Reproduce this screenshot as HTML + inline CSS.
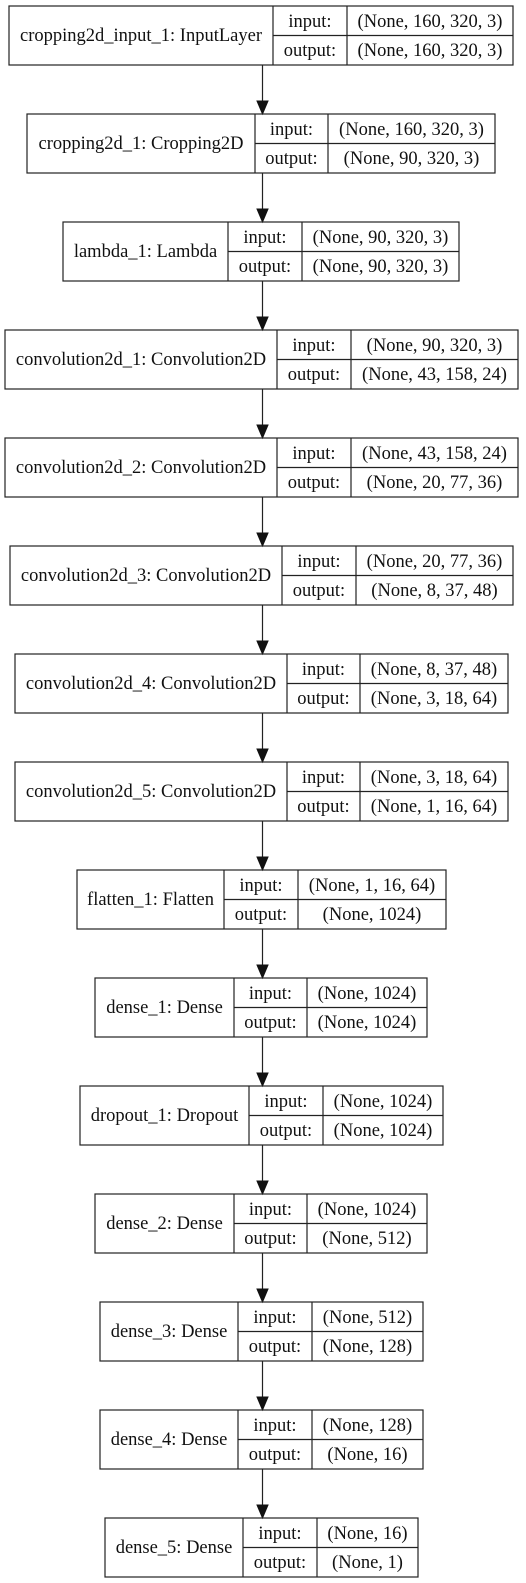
<!DOCTYPE html>
<html><head><meta charset="utf-8"><style>
html,body{margin:0;padding:0;background:#fff;}
svg{display:block;}
text{font-family:"Liberation Serif",serif;font-size:18.5px;fill:#111;text-anchor:middle;}
rect,line{stroke:#222;stroke-width:1.2;fill:none;}
</style></head><body>
<svg width="526" height="1583" viewBox="0 0 526 1583" xmlns="http://www.w3.org/2000/svg">
<g id="g"></g>
</svg>
<script>
var nodes=[
["cropping2d_input_1: InputLayer",9,273,347,513,"(None, 160, 320, 3)","(None, 160, 320, 3)"],
["cropping2d_1: Cropping2D",27,255,328,495,"(None, 160, 320, 3)","(None, 90, 320, 3)"],
["lambda_1: Lambda",63,228,302,459,"(None, 90, 320, 3)","(None, 90, 320, 3)"],
["convolution2d_1: Convolution2D",5,277,351,518,"(None, 90, 320, 3)","(None, 43, 158, 24)"],
["convolution2d_2: Convolution2D",5,277,351,518,"(None, 43, 158, 24)","(None, 20, 77, 36)"],
["convolution2d_3: Convolution2D",10,282,356,513,"(None, 20, 77, 36)","(None, 8, 37, 48)"],
["convolution2d_4: Convolution2D",15,287,360,508,"(None, 8, 37, 48)","(None, 3, 18, 64)"],
["convolution2d_5: Convolution2D",15,287,360,508,"(None, 3, 18, 64)","(None, 1, 16, 64)"],
["flatten_1: Flatten",77,224,298,446,"(None, 1, 16, 64)","(None, 1024)"],
["dense_1: Dense",95,234,307,427,"(None, 1024)","(None, 1024)"],
["dropout_1: Dropout",80,249,323,443,"(None, 1024)","(None, 1024)"],
["dense_2: Dense",95,234,307,427,"(None, 1024)","(None, 512)"],
["dense_3: Dense",100,238,312,423,"(None, 512)","(None, 128)"],
["dense_4: Dense",100,238,312,423,"(None, 128)","(None, 16)"],
["dense_5: Dense",105,243,317,418,"(None, 16)","(None, 1)"]
];
var s="";
nodes.forEach(function(n,i){
var t=6+i*108,b=t+59,m=t+29.5;
s+='<rect x="'+n[1]+'" y="'+t+'" width="'+(n[4]-n[1])+'" height="59"/>';
s+='<line x1="'+n[2]+'" y1="'+t+'" x2="'+n[2]+'" y2="'+b+'"/>';
s+='<line x1="'+n[3]+'" y1="'+t+'" x2="'+n[3]+'" y2="'+b+'"/>';
s+='<line x1="'+n[2]+'" y1="'+m+'" x2="'+n[4]+'" y2="'+m+'"/>';
s+='<text x="'+((n[1]+n[2])/2)+'" y="'+(t+35)+'">'+n[0]+'</text>';
s+='<text x="'+((n[2]+n[3])/2)+'" y="'+(t+21)+'">input:</text>';
s+='<text x="'+((n[2]+n[3])/2)+'" y="'+(t+50)+'">output:</text>';
s+='<text x="'+((n[3]+n[4])/2)+'" y="'+(t+21)+'">'+n[5]+'</text>';
s+='<text x="'+((n[3]+n[4])/2)+'" y="'+(t+50)+'">'+n[6]+'</text>';
if(i<nodes.length-1){
var nt=t+108;
s+='<line x1="262.5" y1="'+b+'" x2="262.5" y2="'+(nt-12)+'"/>';
s+='<polygon points="257,'+(nt-13)+' 268,'+(nt-13)+' 262.5,'+nt+'" fill="#111" stroke="#111" stroke-width="1"/>';
}
});
document.getElementById("g").innerHTML=s;
</script>
</body></html>
